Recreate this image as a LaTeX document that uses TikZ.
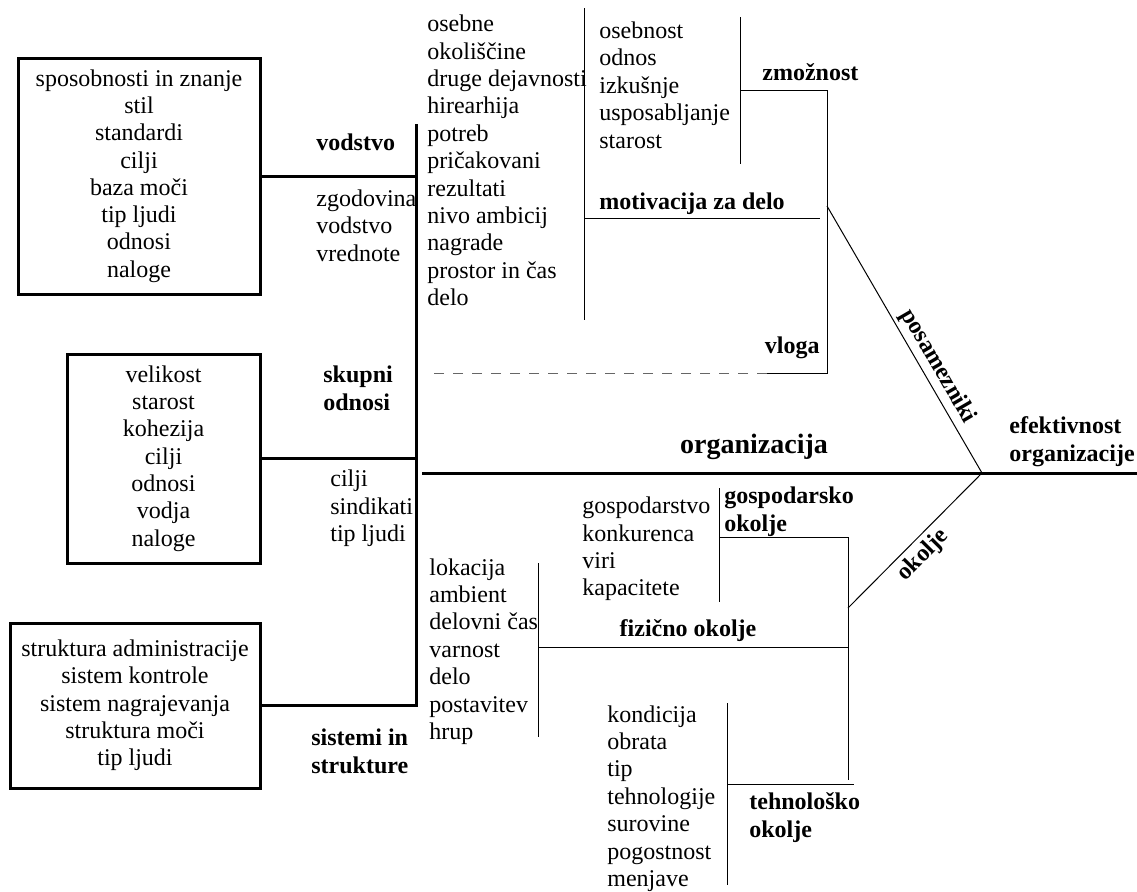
\documentclass[tikz,border=0pt]{standalone}
\usepackage{fontspec}
\setmainfont{Liberation Serif}
\tikzset{
    factorbox/.style={draw, line width=1.5pt, align=center, inner sep=0pt,
        font=\fontsize{12}{13.65}\selectfont},
    itemlist/.style={align=left, anchor=west, inner sep=0pt,
        font=\fontsize{12}{13.7}\selectfont},
    cause/.style={align=left, inner sep=0pt,
        font=\fontsize{12}{14}\selectfont\bfseries},
    bone/.style={line width=1.5pt},
    twig/.style={line width=0.5pt},
    roleline/.style={line width=0.5pt, black!60, dash pattern=on 5pt off 4.5pt}
}
\begin{document}
\begin{tikzpicture}[x=0.5pt, y=-0.5pt]
\useasboundingbox (0,0) rectangle (1137,891);

% spine and head
\coordinate (sp-top) at (416,124);
\coordinate (org-l) at (422,473);
\coordinate (head) at (982,473);
\coordinate (org-r) at (1137,473);

% posamezniki
\coordinate (zm-l) at (740,90);
\coordinate (ind-top) at (827,90);
\coordinate (ind-mid) at (827,206);
\coordinate (ind-bot) at (827,373);
\coordinate (vl-r) at (767,373);
\coordinate (vl-l) at (430,373);
\coordinate (zm-t) at (740,17);
\coordinate (zm-b) at (740,164);
\coordinate (mo-t) at (584,8);
\coordinate (mo-b) at (584,320);
\coordinate (mo-l) at (584,218);
\coordinate (mo-r) at (820,218);

% okolje
\coordinate (env-top) at (848,537);
\coordinate (env-mid) at (848,608);
\coordinate (env-bot) at (848,780);
\coordinate (go-l) at (719,537);
\coordinate (go-t) at (719,488);
\coordinate (go-b) at (719,602);
\coordinate (fi-l) at (538,647);
\coordinate (fi-r) at (848,647);
\coordinate (fi-t) at (538,563);
\coordinate (fi-b) at (538,737);
\coordinate (te-l) at (727,784);
\coordinate (te-r) at (854,784);
\coordinate (te-t) at (727,703);
\coordinate (te-b) at (727,885);

\node[factorbox, minimum width=121pt, minimum height=118pt] (lead) at (139,176)
    {sposobnosti in znanje\\stil\\standardi\\cilji\\baza moči\\tip ljudi\\odnosi\\naloge};
\node[factorbox, minimum width=96.5pt, minimum height=104.5pt] (group) at (163.5,458.5)
    {velikost\\starost\\kohezija\\cilji\\odnosi\\vodja\\naloge};
\node[factorbox, minimum width=125pt, minimum height=82.5pt] (sys) at (135,705.5)
    {struktura administracije\\sistem kontrole\\sistem nagrajevanja\\struktura moči\\tip ljudi};

\draw[bone] (lead.east) -- (lead.east -| sp-top);
\draw[bone] (group.east) -- (group.east -| sp-top);
\draw[bone, line join=miter] (sys.east) -| (sp-top);
\draw[bone] (org-l) -- (org-r);

\draw[twig] (zm-l) -- (ind-top) -- (ind-bot) -- (vl-r);
\draw[roleline] (vl-r) -- (vl-l);
\draw[twig] (zm-t) -- (zm-b);
\draw[twig] (mo-t) -- (mo-b);
\draw[twig] (mo-l) -- (mo-r);
\draw[twig] (ind-mid) -- node[cause, sloped, above, pos=0.63, inner sep=2pt] (ind-lbl) {posamezniki} (head);

\draw[twig] (go-l) -- (env-top) -- (env-bot);
\draw[twig] (go-t) -- (go-b);
\draw[twig] (fi-l) -- (fi-r);
\draw[twig] (fi-t) -- (fi-b);
\draw[twig] (te-l) -- (te-r);
\draw[twig] (te-t) -- (te-b);
\draw[twig] (env-mid) -- node[cause, sloped, below, pos=0.475, inner sep=2.4pt] (env-lbl) {okolje} (head);

% labels
\node[cause, anchor=west] (lead-lbl) at (316,142) {vodstvo};
\node[itemlist] (lead-it) at (316,225.5) {zgodovina\\vodstvo\\vrednote};
\node[cause, anchor=west] (group-lbl) at (323,388) {skupni\\odnosi};
\node[itemlist] (group-it) at (330,508.5) {cilji\\sindikati\\tip ljudi};
\node[cause, anchor=west] (sys-lbl) at (311,751) {sistemi in\\strukture};

\node[itemlist] (mo-it) at (427,160.5)
    {osebne\\okoliščine\\druge dejavnosti\\hirearhija\\potreb\\pričakovani\\rezultati\\nivo ambicij\\nagrade\\prostor in čas\\delo};
\node[itemlist] (zm-it) at (599,85) {osebnost\\odnos\\izkušnje\\usposabljanje\\starost};
\node[cause, anchor=west] (zm-lbl) at (762,72) {zmožnost};
\node[cause, anchor=west] (mo-lbl) at (599,204) {motivacija za delo};
\node[cause, anchor=east] (vl-lbl) at (820,348) {vloga};

\node[cause, font=\fontsize{14}{16}\selectfont\bfseries] (org-lbl) at (754,447) {organizacija};
\node[cause, anchor=west] (head-lbl) at (1009,442) {efektivnost\\organizacije};

\node[cause, anchor=west] (go-lbl) at (724,512) {gospodarsko\\okolje};
\node[itemlist] (go-it) at (582,549) {gospodarstvo\\konkurenca\\viri\\kapacitete};
\node[cause] (fi-lbl) at (688,631) {fizično okolje};
\node[itemlist] (fi-it) at (429,651.5) {lokacija\\ambient\\delovni čas\\varnost\\delo\\postavitev\\hrup};
\node[cause, anchor=west] (te-lbl) at (749,818) {tehnološko\\okolje};
\node[itemlist] (te-it) at (607,798.5) {kondicija\\obrata\\tip\\tehnologije\\surovine\\pogostnost\\menjave};
\end{tikzpicture}
\end{document}
